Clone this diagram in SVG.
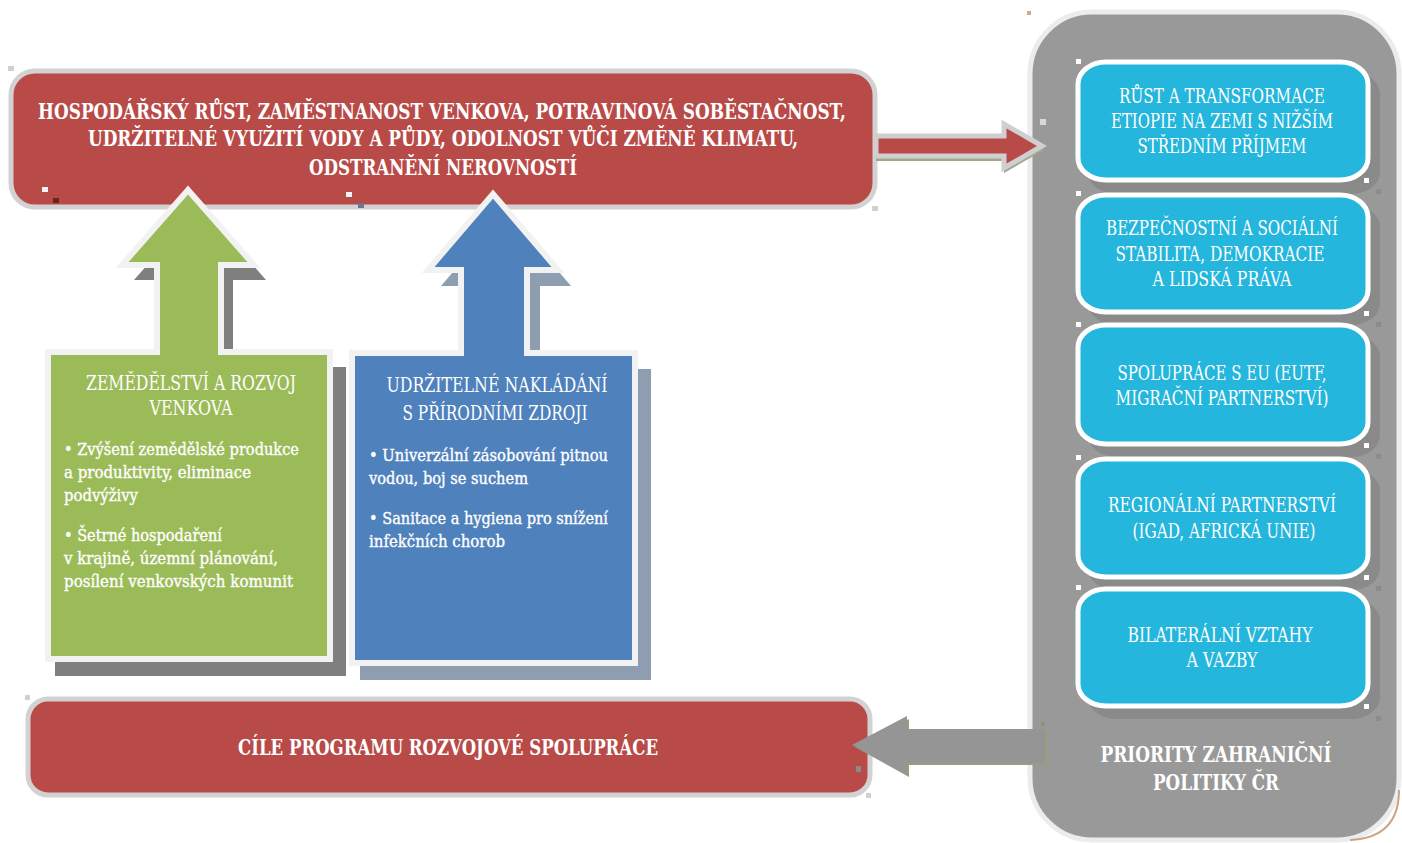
<svg xmlns="http://www.w3.org/2000/svg" width="1402" height="843" viewBox="0 0 1402 843">
<style>
.t{font-family:"DejaVu Serif Condensed","DejaVu Serif","Liberation Serif",serif;fill:#fff;font-stretch:condensed}
.b{font-weight:bold}
.c{text-anchor:middle}
.m{stroke:#fff;stroke-width:0.35}
.red{fill:#b84a48;stroke:#d2d2d2;stroke-width:5}
.cy{fill:#24b6dc;stroke:#fff;stroke-width:5}
.cysh{fill:#8a8a8a}
.hw{fill:#fff}
.hg{fill:#8c8c8c}
</style>
<rect width="1402" height="843" fill="#fff"/>

<!-- right panel -->
<g id="priority-panel">
<rect x="1030" y="12" width="369" height="828" rx="62" fill="#999" stroke="#ececec" stroke-width="5"/>
<path d="M1399 790 Q1399 838 1350 840" fill="none" stroke="#c9a585" stroke-width="2"/>
<rect x="1027" y="11" width="4" height="4" fill="#d7a98a"/>
<text class="t b c" x="1216" y="762" font-size="22" textLength="231" lengthAdjust="spacingAndGlyphs">PRIORITY ZAHRANIČNÍ</text>
<text class="t b c" x="1216" y="790" font-size="22" textLength="126" lengthAdjust="spacingAndGlyphs">POLITIKY ČR</text>
</g>

<g id="p1">
<rect class="cysh" x="1088" y="72" width="292" height="122" rx="28" ry="22"/>
<rect class="cy" x="1078" y="62" width="290" height="118" rx="28" ry="22"/>
<text class="t c" x="1222" y="103" font-size="20" textLength="206" lengthAdjust="spacingAndGlyphs">RŮST A TRANSFORMACE</text>
<text class="t c" x="1222" y="128" font-size="20" textLength="222" lengthAdjust="spacingAndGlyphs">ETIOPIE NA ZEMI S NIŽŠÍM</text>
<text class="t c" x="1222" y="153" font-size="20" textLength="169" lengthAdjust="spacingAndGlyphs">STŘEDNÍM PŘÍJMEM</text>
</g>
<g id="p2">
<rect class="cysh" x="1088" y="205" width="292" height="120" rx="28" ry="22"/>
<rect class="cy" x="1078" y="195" width="290" height="117" rx="28" ry="22"/>
<text class="t c" x="1222" y="235" font-size="20" textLength="232" lengthAdjust="spacingAndGlyphs">BEZPEČNOSTNÍ A SOCIÁLNÍ</text>
<text class="t c" x="1220" y="261" font-size="20" textLength="209" lengthAdjust="spacingAndGlyphs">STABILITA, DEMOKRACIE</text>
<text class="t c" x="1222" y="286" font-size="20" textLength="139" lengthAdjust="spacingAndGlyphs">A LIDSKÁ PRÁVA</text>
</g>
<g id="p3">
<rect class="cysh" x="1088" y="335" width="292" height="122" rx="28" ry="22"/>
<rect class="cy" x="1078" y="325" width="290" height="119" rx="28" ry="22"/>
<text class="t c" x="1222" y="380" font-size="20" textLength="209" lengthAdjust="spacingAndGlyphs">SPOLUPRÁCE S EU (EUTF,</text>
<text class="t c" x="1222" y="405" font-size="20" textLength="213" lengthAdjust="spacingAndGlyphs">MIGRAČNÍ PARTNERSTVÍ)</text>
</g>
<g id="p4">
<rect class="cysh" x="1088" y="469" width="292" height="121" rx="28" ry="22"/>
<rect class="cy" x="1078" y="459" width="290" height="118" rx="28" ry="22"/>
<text class="t c" x="1222" y="512" font-size="20" textLength="228" lengthAdjust="spacingAndGlyphs">REGIONÁLNÍ PARTNERSTVÍ</text>
<text class="t c" x="1224" y="538" font-size="20" textLength="183" lengthAdjust="spacingAndGlyphs">(IGAD, AFRICKÁ UNIE)</text>
</g>
<g id="p5">
<rect class="cysh" x="1088" y="599" width="292" height="120" rx="28" ry="22"/>
<rect class="cy" x="1078" y="589" width="290" height="117" rx="28" ry="22"/>
<text class="t c" x="1220" y="642" font-size="20" textLength="185" lengthAdjust="spacingAndGlyphs">BILATERÁLNÍ VZTAHY</text>
<text class="t c" x="1222" y="667" font-size="20" textLength="71" lengthAdjust="spacingAndGlyphs">A VAZBY</text>
</g>
<g id="handles">
<rect class="hw" x="1076" y="59" width="5" height="5"/><rect class="hw" x="1364" y="178" width="5" height="5"/><rect class="hg" x="1376" y="189" width="5" height="5"/>
<rect class="hw" x="1076" y="191" width="5" height="5"/><rect class="hw" x="1364" y="311" width="5" height="5"/><rect class="hg" x="1376" y="322" width="5" height="5"/>
<rect class="hw" x="1076" y="322" width="5" height="5"/><rect class="hw" x="1364" y="443" width="5" height="5"/><rect class="hg" x="1376" y="454" width="5" height="5"/>
<rect class="hw" x="1076" y="455" width="5" height="5"/><rect class="hw" x="1364" y="575" width="5" height="5"/><rect class="hg" x="1376" y="586" width="5" height="5"/>
<rect class="hw" x="1076" y="585" width="5" height="5"/><rect class="hw" x="1364" y="704" width="5" height="5"/><rect class="hg" x="1376" y="716" width="5" height="5"/>
</g>

<!-- top goal box -->
<g id="goals-top">
<rect class="red" x="11" y="71" width="864" height="136" rx="24"/>
<text class="t b c" x="442" y="119" font-size="22" textLength="808" lengthAdjust="spacingAndGlyphs">HOSPODÁŘSKÝ RŮST, ZAMĚSTNANOST VENKOVA, POTRAVINOVÁ SOBĚSTAČNOST,</text>
<text class="t b c" x="443" y="146" font-size="22" textLength="710" lengthAdjust="spacingAndGlyphs">UDRŽITELNÉ VYUŽITÍ VODY A PŮDY, ODOLNOST VŮČI ZMĚNĚ KLIMATU,</text>
<text class="t b c" x="443" y="175" font-size="22" textLength="268" lengthAdjust="spacingAndGlyphs">ODSTRANĚNÍ NEROVNOSTÍ</text>
<rect x="8" y="66" width="6" height="5" fill="#d0d0d0"/>
<rect x="42" y="187" width="6" height="5" fill="#f4f4f4"/>
<rect x="53" y="198" width="6" height="5" fill="#6a2424"/>
<rect x="346" y="192" width="6" height="5" fill="#f4f4f4"/>
<rect x="358" y="203" width="6" height="5" fill="#6c7590"/>
<rect x="872" y="206" width="6" height="5" fill="#d0d0d0"/>
</g>

<!-- green pillar -->
<g id="agri">
<polygon points="55,367 169,367 169,280 134,280 200,205 266,280 233,280 233,367 346,367 346,676 55,676" fill="#7f7f7f"/>
<polygon points="48,352 157,352 157,265 122,265 188,190 254,265 221,265 221,352 330,352 330,659 48,659" fill="#9bbb59" stroke="#f2f2f2" stroke-width="6" stroke-linejoin="miter"/>
<text class="t c" x="191" y="390" font-size="20" textLength="210" lengthAdjust="spacingAndGlyphs">ZEMĚDĚLSTVÍ A ROZVOJ</text>
<text class="t c" x="191" y="415" font-size="20" textLength="83" lengthAdjust="spacingAndGlyphs">VENKOVA</text>
<text class="t m" x="64" y="455" font-size="17.5" textLength="235" lengthAdjust="spacingAndGlyphs">• Zvýšení zemědělské produkce</text>
<text class="t m" x="64" y="478" font-size="17.5" textLength="187" lengthAdjust="spacingAndGlyphs">a produktivity, eliminace</text>
<text class="t m" x="64" y="501" font-size="17.5" textLength="74" lengthAdjust="spacingAndGlyphs">podvýživy</text>
<text class="t m" x="64" y="541" font-size="17.5" textLength="158" lengthAdjust="spacingAndGlyphs">• Šetrné hospodaření</text>
<text class="t m" x="64" y="564" font-size="17.5" textLength="214" lengthAdjust="spacingAndGlyphs">v krajině, územní plánování,</text>
<text class="t m" x="64" y="587" font-size="17.5" textLength="229" lengthAdjust="spacingAndGlyphs">posílení venkovských komunit</text>
</g>

<!-- blue pillar -->
<g id="nature">
<polygon points="360,369 474,369 474,286 441,286 506,210 571,286 540,286 540,369 651,369 651,680 360,680" fill="#8e9db0"/>
<polygon points="352,353 461,353 461,270 428,270 493,194 558,270 527,270 527,353 635,353 635,663 352,663" fill="#4f81bd" stroke="#f2f2f2" stroke-width="6" stroke-linejoin="miter"/>
<text class="t c" x="497" y="392" font-size="20" textLength="221" lengthAdjust="spacingAndGlyphs">UDRŽITELNÉ NAKLÁDÁNÍ</text>
<text class="t c" x="495" y="420" font-size="20" textLength="185" lengthAdjust="spacingAndGlyphs">S PŘÍRODNÍMI ZDROJI</text>
<text class="t m" x="369" y="461" font-size="17.5" textLength="239" lengthAdjust="spacingAndGlyphs">• Univerzální zásobování pitnou</text>
<text class="t m" x="369" y="484" font-size="17.5" textLength="159" lengthAdjust="spacingAndGlyphs">vodou, boj se suchem</text>
<text class="t m" x="369" y="524" font-size="17.5" textLength="239" lengthAdjust="spacingAndGlyphs">• Sanitace a hygiena pro snížení</text>
<text class="t m" x="369" y="547" font-size="17.5" textLength="136" lengthAdjust="spacingAndGlyphs">infekčních chorob</text>
</g>

<!-- bottom goal box -->
<g id="goals-bottom">
<rect class="red" x="28" y="699" width="842" height="96" rx="20"/>
<text class="t b c" x="448" y="755" font-size="23" textLength="420" lengthAdjust="spacingAndGlyphs">CÍLE PROGRAMU ROZVOJOVÉ SPOLUPRÁCE</text>
<rect x="25" y="695" width="5" height="5" fill="#d0d0d0"/>
<rect x="856" y="766" width="5" height="6" fill="#8a8a8a"/>
<rect x="866" y="793" width="5" height="5" fill="#d0d0d0"/>
</g>

<!-- connectors -->
<g id="connectors">
<polygon points="876,139 1004,139 1004,127 1044,150 1004,173 1004,161 876,161" fill="#a0a88c"/>
<polygon points="876,136 1004,136 1004,124 1042,146 1004,168 1004,156 876,156" fill="#b84a48" stroke="#cfcfcf" stroke-width="5" stroke-linejoin="miter"/>
<rect x="1040" y="119" width="6" height="6" fill="#d8d8d8"/>
<polygon points="1047,731 909,731 909,719 855,747 909,777 909,765 1047,765" fill="#94a07c"/>
<polygon points="1045,729 907,729 907,716 852,745 907,775 907,763 1045,763" fill="#959595"/>
<rect x="1041" y="722" width="4" height="4" fill="#8a9470"/>
</g>
</svg>
